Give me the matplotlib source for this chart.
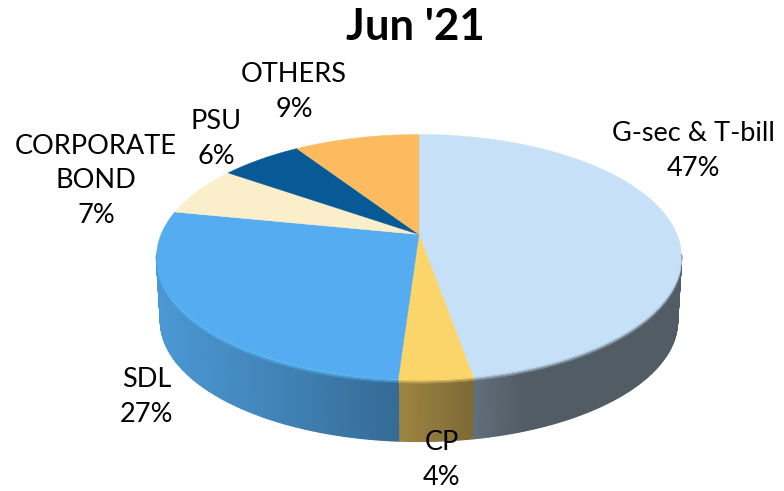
import numpy as np
import matplotlib
matplotlib.use("Agg")
import matplotlib.pyplot as plt
from matplotlib.collections import PolyCollection
from matplotlib.colors import to_rgb

title = "Jun '21"
categories = ["G-sec & T-bill", "CP", "SDL", "CORPORATE\nBOND", "PSU", "OTHERS"]
values = [47.25, 3.8, 27.1, 6.6, 6.05, 9.2]
colors = ["#c5e0f7", "#fcd56a", "#55acf0", "#faeecb", "#085a97", "#fdbb60"]
rim_colors = ["#c5e0f7", "#ffdc72", "#5cbcfb", "#faeecb", "#085a97", "#fdbb60"]
label_xy = [(693, 151), (442, 460), (147, 397), (96, 181), (216, 139), (294, 92)]

W, H = 784, 491
CX, CY, R, B, K = 419.0, 234.5, 258.0, 118.4, 0.1837
DEPTH, BOT = 64.0, 0.985

plt.rcParams["font.family"] = ["Lato", "DejaVu Sans"]
fig = plt.figure(figsize=(W / 100, H / 100), dpi=100)
ax = fig.add_axes([0, 0, 1, 1])
ax.set_xlim(0, W)
ax.set_ylim(H, 0)
ax.axis("off")


def project(theta, scale=1.0, dy=0.0):
    u, v = np.sin(theta), -np.cos(theta)
    d = 1 - K * v
    return CX + scale * R * u / d, CY + dy + scale * B * v / d


def wall_factor(x):
    return np.interp(x, [160, 280, 398, 472, 525, 682], [0.88, 0.76, 0.62, 0.50, 0.41, 0.41])


def mix(a, b, t):
    return tuple(np.asarray(a) * (1 - t) + np.asarray(b) * t)


edges = np.cumsum([0] + values) / sum(values) * 2 * np.pi

# side wall
for i, col in enumerate(colors):
    base = np.array(to_rgb(col))
    th = np.linspace(edges[i], edges[i + 1], max(int(values[i] * 6), 8))
    quads, fc = [], []
    for a, b in zip(th[:-1], th[1:]):
        if -np.cos((a + b) / 2) < K - 0.02:
            continue
        x1, y1 = project(a)
        x2, y2 = project(b)
        x3, y3 = project(b, BOT, DEPTH)
        x4, y4 = project(a, BOT, DEPTH)
        quads.append([(x1, y1), (x2, y2), (x3, y3), (x4, y4)])
        fc.append(tuple(base * wall_factor((x1 + x2) / 2)))
    if quads:
        ax.add_collection(PolyCollection(quads, facecolors=fc, edgecolors=fc,
                                         linewidths=1.0, zorder=1 + 0.01 * i))

# top face
for i, col in enumerate(colors):
    th = np.linspace(edges[i], edges[i + 1], 120)
    x, y = project(th)
    ax.fill(np.r_[CX, x], np.r_[CY, y], facecolor=col, edgecolor=col, linewidth=0.3, zorder=2)

# bevel along the near rim
quads, fc = [], []
bands = [(0.0, 1.2, 0.0), (1.2, 2.4, 0.3), (2.4, 3.6, 0.65)]
for i, col in enumerate(colors):
    rim = to_rgb(rim_colors[i])
    base = np.array(to_rgb(col))
    th = np.linspace(edges[i], edges[i + 1], max(int(values[i] * 6), 8))
    for a, b in zip(th[:-1], th[1:]):
        v = -np.cos((a + b) / 2)
        if v < K - 0.02:
            continue
        fade = min(1.0, (v - K + 0.02) / 0.12)
        for d0, d1, t in bands:
            x1, y1 = project(a, 1, d0 * fade)
            x2, y2 = project(b, 1, d0 * fade)
            x3, y3 = project(b, 1, d1 * fade)
            x4, y4 = project(a, 1, d1 * fade)
            quads.append([(x1, y1), (x2, y2), (x3, y3), (x4, y4)])
            c = mix(rim, base * wall_factor((x1 + x2) / 2), t)
            fc.append(c)
ax.add_collection(PolyCollection(quads, facecolors=fc, edgecolors=fc, linewidths=0.3, zorder=3))

ax.text(415, 27, title, ha="center", va="center", fontsize=31.5, fontweight="bold", color="black", zorder=5)
for name, val, (x, y) in zip(categories, values, label_xy):
    ax.text(x, y, f"{name}\n{val:.0f}%", ha="center", va="center", ma="center",
            fontsize=19.5, linespacing=1.47, color="black", zorder=5)

fig.savefig("out.png", dpi=100, facecolor="white")
